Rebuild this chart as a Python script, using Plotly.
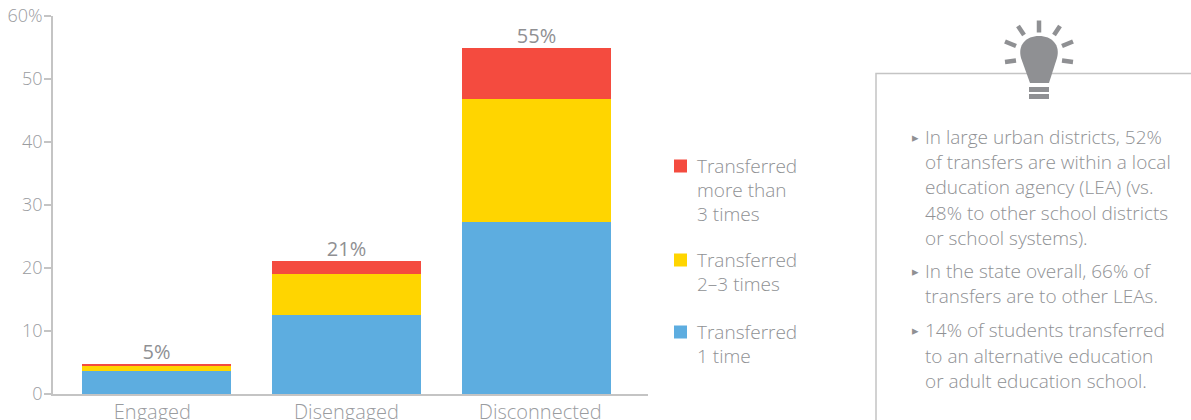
import plotly.graph_objects as go

categories = ["Engaged", "Disengaged", "Disconnected"]
once = [3.6, 12.5, 27.3]
two_three = [1.0, 6.5, 19.5]
more_three = [0.2, 2.1, 8.1]
totals = [4.8, 21.1, 54.9]
total_labels = ["5%", "21%", "55%"]
y_ticks = [0, 10, 20, 30, 40, 50, 60]
y_labels = ["0", "10", "20", "30", "40", "50", "60%"]
x_tick_positions = [-0.022, 0, 2.02]
x_tick_positions[1] = 1.0
panel_lines = [
    ["In large urban districts, 52%", "of transfers are within a local",
     "education agency (LEA) (vs.", "48% to other school districts", "or school systems)."],
    ["In the state overall, 66% of", "transfers are to other LEAs."],
    ["14% of students transferred", "to an alternative education", "or adult education school."],
]
panel_y = [[137, 162, 187, 213, 238], [271, 296], [330, 356, 381]]
legend_lines = [["Transferred", "more than", "3 times"], ["Transferred", "2–3 times"], ["Transferred", "1 time"]]
legend_y = [[166, 190, 214], [260, 284], [332, 356]]
BLUE, YELLOW, RED = "#5dade0", "#ffd500", "#f44b3f"
legend_colors = [RED, YELLOW, BLUE]

W, H = 1191, 420
L, R, T, B = 53, 648, 16, 394
FONT = "Open Sans"
WEIGHT = 300
GREY = "#8f9194"
TICK = "#9a9c9f"
DARK = "#8f9093"
AXIS = "#c4c4c4"
px = lambda v: (v - L) / (R - L)
py = lambda v: (B - v) / (B - T)

fig = go.Figure()
for name, vals, col in [("Transferred 1 time", once, BLUE), ("Transferred 2–3 times", two_three, YELLOW),
                        ("Transferred more than 3 times", more_three, RED)]:
    fig.add_bar(x=categories, y=vals, name=name, marker=dict(color=col, line_width=0), width=0.784, showlegend=False)
fig.add_scatter(x=categories, y=totals, text=total_labels, mode="text", textposition="top center",
                textfont=dict(size=20, color=DARK, family=FONT, weight=400), showlegend=False, cliponaxis=False)

shapes = [
    dict(type="path", xref="paper", yref="paper", line=dict(color=AXIS, width=1.5),
         path=f"M{px(876)},{py(424)} L{px(876)},{py(73.5)} L{px(1195)},{py(73.5)}"),
]
def seg(x0, y0, x1, y1, w):
    return dict(type="line", xref="paper", yref="paper", x0=px(x0), y0=py(y0), x1=px(x1), y1=py(y1),
                line=dict(color=DARK, width=w))
for a in [(1039, 20.5, 1039, 32.5), (1018, 26, 1024, 35), (1060, 26, 1054, 35), (1005, 41.5, 1016, 46),
          (1073, 41.5, 1062, 46), (1005, 62, 1016, 60.5), (1073, 62, 1062, 60.5)]:
    shapes.append(seg(*a, 4.5))
shapes.append(seg(1029, 89.5, 1049, 89.5, 5))
shapes.append(seg(1029, 96.5, 1049, 96.5, 5))
shapes.append(dict(type="path", xref="paper", yref="paper", fillcolor=DARK, line_width=0,
    path=(f"M{px(1030)},{py(83)} L{px(1049)},{py(83)} L{px(1057)},{py(58)} "
          f"C{px(1060.5)},{py(45)} {px(1052)},{py(36)} {px(1039)},{py(36)} "
          f"C{px(1026)},{py(36)} {px(1017.5)},{py(45)} {px(1021)},{py(58)} Z")))

anns = []
def txt(t, x, y, size=19, color=GREY, family=FONT, weight=WEIGHT):
    anns.append(dict(text=t, x=px(x), y=py(y), xref="paper", yref="paper", xanchor="left", yanchor="middle",
                     showarrow=False, borderpad=0, xshift=-1, font=dict(size=size, color=color, family=family, weight=weight)))
for lines, ys in zip(panel_lines, panel_y):
    txt("▸", 912, ys[0], 13, DARK, "DejaVu Sans", 400)
    for t, y in zip(lines, ys):
        txt(t, 925, y)
for lines, ys, col in zip(legend_lines, legend_y, legend_colors):
    shapes.append(dict(type="rect", xref="paper", yref="paper", x0=px(674), x1=px(687), y0=py(ys[0] - 6.5),
                       y1=py(ys[0] + 6.5), fillcolor=col, line_width=0))
    for t, y in zip(lines, ys):
        txt(t, 697, y)

fig.update_layout(
    width=W, height=H, autosize=False, barmode="stack",
    margin=dict(l=L, r=W - R, t=T, b=H - B, pad=0),
    paper_bgcolor="white", plot_bgcolor="white", font=dict(family=FONT, size=18, color=GREY, weight=WEIGHT),
    shapes=shapes, annotations=anns, showlegend=False,
    xaxis=dict(range=[-0.545, 2.587], showgrid=False, showline=True, linecolor=AXIS, linewidth=1.5, automargin=False,
               tickmode="array", tickvals=x_tick_positions, ticktext=categories, ticklabelstandoff=-1,
               ticks="", zeroline=False, tickfont=dict(size=20, color=TICK, weight=WEIGHT, family=FONT)),
    yaxis=dict(range=[0, 60], tickvals=y_ticks, ticktext=y_labels, showgrid=False, showline=True, automargin=False,
               linecolor=AXIS, linewidth=1.5, ticks="outside", ticklen=7, tickcolor=AXIS, tickwidth=1.5,
               ticklabelstandoff=-2, zeroline=False, tickfont=dict(size=18, color=TICK, weight=WEIGHT, family=FONT)),
)
fig.write_html("out.html", config=dict(displayModeBar=False), post_script="document.body.style.margin='0';")
